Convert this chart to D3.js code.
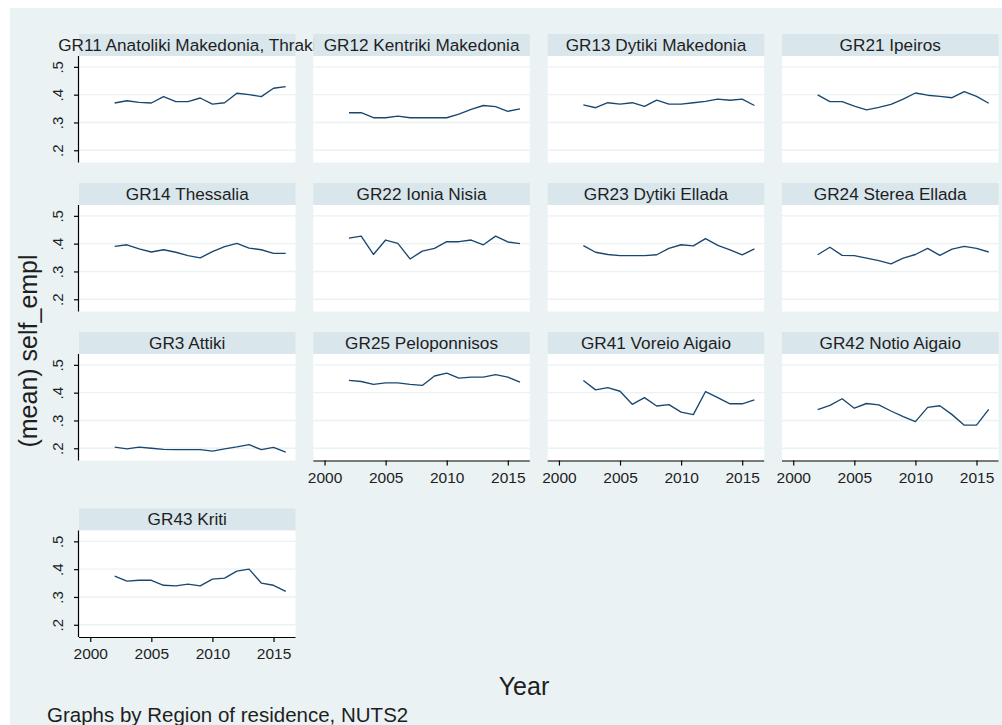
<!DOCTYPE html>
<html><head><meta charset="utf-8">
<script src="https://cdn.jsdelivr.net/npm/d3@7"></script>
<style>
html,body{margin:0;padding:0;background:#fff;}
svg{display:block;font-family:"Liberation Sans",Arial,sans-serif;}
</style></head>
<body><svg id="c" width="1002" height="725"></svg>
<script>
const years = [2002,2003,2004,2005,2006,2007,2008,2009,2010,2011,2012,2013,2014,2015,2016];
const regionNames = ["GR11 Anatoliki Makedonia, Thraki","GR12 Kentriki Makedonia","GR13 Dytiki Makedonia","GR21 Ipeiros",
  "GR14 Thessalia","GR22 Ionia Nisia","GR23 Dytiki Ellada","GR24 Sterea Ellada",
  "GR3 Attiki","GR25 Peloponnisos","GR41 Voreio Aigaio","GR42 Notio Aigaio","GR43 Kriti"];
const gr11 = [.370,.378,.372,.370,.393,.375,.375,.388,.366,.371,.405,.400,.393,.423,.429];
const gr12 = [.335,.335,.317,.317,.323,.317,.317,.317,.317,.330,.347,.361,.357,.340,.349];
const gr13 = [.363,.353,.371,.366,.371,.358,.380,.366,.366,.371,.376,.384,.380,.384,.361];
const gr21 = [.399,.375,.375,.359,.345,.354,.365,.384,.406,.398,.394,.389,.411,.394,.369];
const gr14 = [.390,.396,.381,.370,.378,.369,.357,.349,.371,.389,.401,.384,.378,.365,.365];
const gr22 = [.420,.427,.361,.413,.401,.345,.373,.383,.407,.407,.413,.396,.427,.406,.400];
const gr23 = [.393,.369,.361,.357,.357,.357,.360,.383,.396,.392,.418,.394,.378,.360,.381];
const gr24 = [.360,.387,.358,.357,.348,.339,.327,.348,.361,.383,.358,.380,.390,.383,.370];
const gr3  = [.204,.198,.204,.200,.196,.195,.195,.195,.190,.198,.205,.213,.195,.203,.186];
const gr25 = [.444,.440,.430,.435,.435,.430,.426,.460,.470,.452,.456,.456,.465,.456,.438];
const gr41 = [.444,.410,.418,.405,.358,.382,.352,.357,.330,.321,.404,.382,.360,.360,.374];
const gr42 = [.339,.354,.378,.344,.361,.356,.334,.314,.296,.347,.353,.321,.283,.283,.340];
const gr43 = [.375,.357,.360,.360,.342,.340,.346,.340,.364,.368,.393,.400,.350,.342,.320];
const seriesValues = [gr11,gr12,gr13,gr21,gr14,gr22,gr23,gr24,gr3,gr25,gr41,gr42,gr43];
const yTicks = [.2,.3,.4,.5];
const yTickLabels = [".2",".3",".4",".5"];
const xTicks = [2000,2005,2010,2015];
const xTitle = "Year";
const yTitle = "(mean) self_empl";
const note = "Graphs by Region of residence, NUTS2";

const svg = d3.select("#c");
const BG = "#eaf2f3", STRIP = "#d9e6ec", GRID = "#eaf2f3", LINE = "#1a476f";
svg.append("rect").attr("x",10).attr("y",8).attr("width",992).attr("height",717).attr("fill",BG);

const colLeft = [79, 313.3, 547.7, 782];
const rowTop = [56, 205, 354, 530.5];
const pw = 216.5, ph = 106.5, stripH = 22;
const xDomain = [1999.08, 2016.8], yDomain = [0.156, 0.539];

const panels = regionNames.map((n,i)=>({name:n, vals:seriesValues[i], col:i%4, row:Math.floor(i/4)}));

panels.forEach((p,i)=>{
  const x0 = colLeft[p.col], y0 = rowTop[p.row];
  const g = svg.append("g").attr("transform",`translate(${x0},${y0})`);
  const x = d3.scaleLinear().domain(xDomain).range([0,pw]);
  const y = d3.scaleLinear().domain(yDomain).range([ph,0]);
  g.append("rect").attr("x",0).attr("y",-stripH).attr("width",pw).attr("height",stripH).attr("fill",STRIP);
  g.append("text").attr("x",pw/2).attr("y",-5.5).attr("text-anchor","middle")
    .attr("font-size",17.2).attr("fill","#1e1e1e").text(p.name);
  g.append("rect").attr("x",0).attr("y",0).attr("width",pw).attr("height",ph).attr("fill","#fff");
  g.selectAll("line.grid").data(yTicks).join("line").attr("class","grid")
    .attr("x1",0).attr("x2",pw).attr("y1",d=>y(d)).attr("y2",d=>y(d))
    .attr("stroke",GRID).attr("stroke-width",1.4);
  const line = d3.line().x((d,k)=>x(years[k])).y(d=>y(d));
  g.append("path").datum(p.vals).attr("d",line).attr("fill","none")
    .attr("stroke",LINE).attr("stroke-width",1.35).attr("stroke-linejoin","round");
  if(p.col===0){
    const ax = g.append("g").call(d3.axisLeft(y).tickValues(yTicks).tickSize(5).tickPadding(0)
      .tickFormat((d,k)=>yTickLabels[k]));
    ax.select(".domain").attr("d",`M-0.5,0V${ph}`).attr("stroke","#000").attr("stroke-width",1.2);
    ax.selectAll(".tick line").attr("stroke","#000").attr("stroke-width",1.2).attr("x1",-0.5);
    ax.selectAll(".tick text").attr("x",null).attr("dy",null).attr("text-anchor","middle")
      .attr("font-size",15).attr("fill","#1e1e1e").attr("font-family",null)
      .attr("transform","translate(-16.5,0) rotate(-90)");
  }
  const below = panels.find(q=>q.col===p.col && q.row===p.row+1);
  if(!below){
    const ax = g.append("g").attr("transform",`translate(0,${ph})`)
      .call(d3.axisBottom(x).tickValues(xTicks).tickSize(5).tickPadding(6).tickFormat(d3.format("d")));
    ax.select(".domain").attr("d",`M0,0.5H${pw}`).attr("stroke","#000").attr("stroke-width",1.2);
    ax.selectAll(".tick line").attr("stroke","#000").attr("stroke-width",1.2);
    ax.selectAll(".tick text").attr("font-size",15.5).attr("fill","#1e1e1e").attr("font-family",null).attr("dy","0.71em");
  }
});

svg.append("text").attr("transform","translate(37,351) rotate(-90)").attr("text-anchor","middle")
  .attr("font-size",25).attr("fill","#1e1e1e").text(yTitle);
svg.append("text").attr("x",524).attr("y",695).attr("text-anchor","middle")
  .attr("font-size",25).attr("fill","#1e1e1e").text(xTitle);
svg.append("text").attr("x",47).attr("y",722).attr("font-size",20.5).attr("fill","#1e1e1e").text(note);
</script></body></html>
